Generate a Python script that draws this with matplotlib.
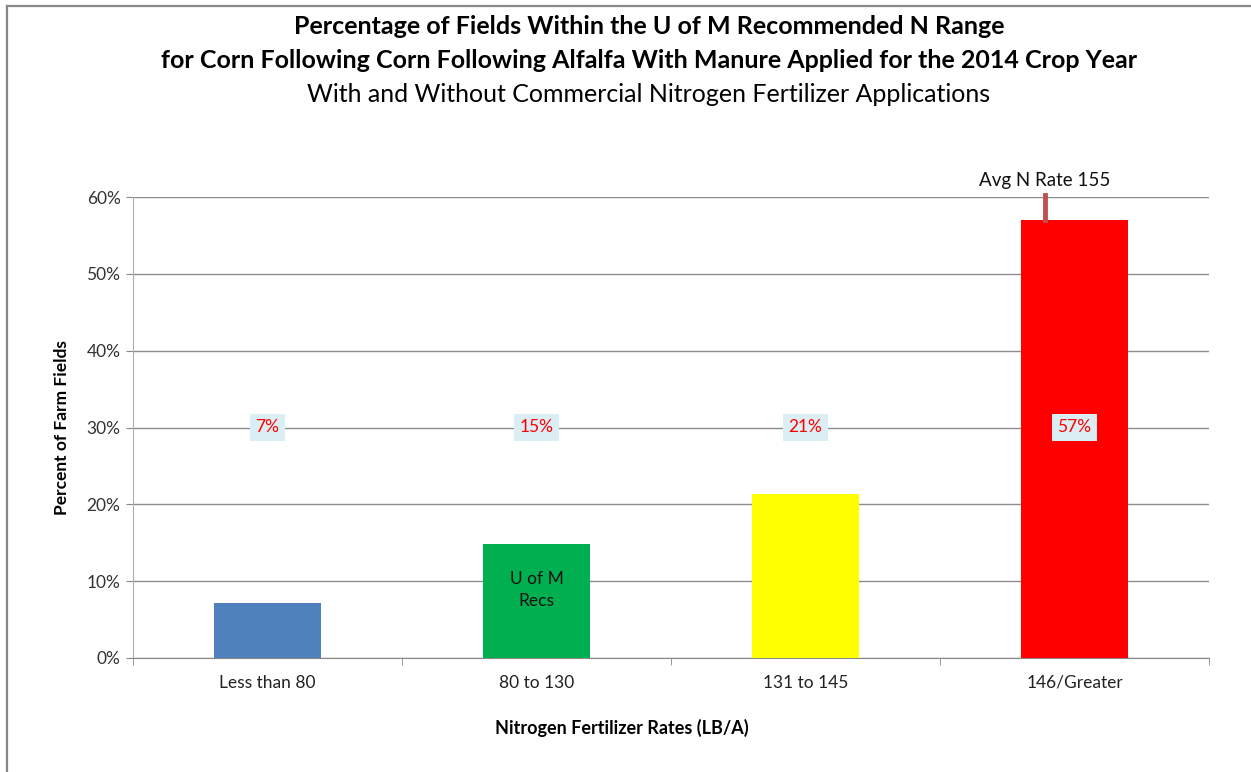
import matplotlib.pyplot as plt
from matplotlib.lines import Line2D

categories = ['Less than 80', '80 to 130', '131 to 145', '146/Greater']
values = [7.1, 14.9, 21.3, 57.0]
labels = ['7%', '15%', '21%', '57%']
colors = ['#4F81BD', '#00B050', '#FFFF00', '#FF0000']
avg_n_rate = 155

plt.rcParams['font.family'] = ['Lato', 'DejaVu Sans']

W, H = 1251, 772
fig = plt.figure(figsize=(W / 100, H / 100), dpi=100)
ax = fig.add_axes([133 / W, 1 - 658 / H, (1209 - 133) / W, (658 - 197) / H])

x = range(len(categories))
ax.bar(x, values, width=0.4, color=colors, zorder=3)

ax.set_xlim(-0.5, len(categories) - 0.5)
ax.set_ylim(0, 60)
ax.set_yticks(range(0, 61, 10))
ax.set_yticklabels([f'{v}%' for v in range(0, 61, 10)], fontsize=12.5, color='#333333')
ax.set_xticks(list(x))
ax.set_xticklabels(categories, fontsize=12.5, color='#222222')
ax.set_xticks([i - 0.5 for i in range(len(categories) + 1)], minor=True)
ax.tick_params(axis='x', which='major', length=0, pad=12)
ax.tick_params(axis='x', which='minor', length=5, color='#888888')
ax.tick_params(axis='y', length=5, color='#888888', pad=4)
ax.grid(axis='y', color='#8c8c8c', linewidth=1, zorder=0)
for s in ['top', 'right']:
    ax.spines[s].set_visible(False)
ax.spines['left'].set_color('#b0b0b0')
ax.spines['bottom'].set_color('#888888')

# data labels at the 30% line
for i, lab in enumerate(labels):
    ax.text(i, 30, lab, ha='center', va='center', fontsize=12.5, color='#FF0000', zorder=5,
            bbox=dict(boxstyle='square,pad=0.3', fc='#DBEEF4', ec='none'))

ax.text(1, 8.9, 'U of M\nRecs', ha='center', va='center', fontsize=12.5,
        color='#111111', linespacing=1.45, zorder=5)

# average N rate marker
mx = 3 - 30 / 269
ax.plot([mx, mx], [57, 60.3], color='#C0504D', linewidth=3.5, zorder=4, clip_on=False)
ax.text(mx, 62.2, f'Avg N Rate {avg_n_rate}', ha='center', va='center', fontsize=13.5, color='#111111')

ax.set_ylabel('Percent of Farm Fields', fontsize=12.5, fontweight='bold', labelpad=12)
ax.set_xlabel('Nitrogen Fertilizer Rates (LB/A)', fontsize=13, fontweight='bold')
ax.xaxis.set_label_coords((622 - 133) / 1076, -(719 - 658) / 461)

fig.text(649 / W, 1 - 27 / H, 'Percentage of Fields Within the U of M Recommended N Range',
         ha='center', va='center', fontsize=18, fontweight='bold')
fig.text(649 / W, 1 - 61 / H, 'for Corn Following Corn Following Alfalfa With Manure Applied for the 2014 Crop Year',
         ha='center', va='center', fontsize=18, fontweight='bold')
fig.text(649 / W, 1 - 95 / H, 'With and Without Commercial Nitrogen Fertilizer Applications',
         ha='center', va='center', fontsize=18)

# outer chart frame (left and top edges visible)
fig.add_artist(Line2D([6.5 / W, 6.5 / W], [0, 1 - 5.5 / H], color='#888888', linewidth=1.6))
fig.add_artist(Line2D([6.5 / W, 1], [1 - 5.5 / H, 1 - 5.5 / H], color='#888888', linewidth=1.6))

fig.savefig('out.png', dpi=100)
